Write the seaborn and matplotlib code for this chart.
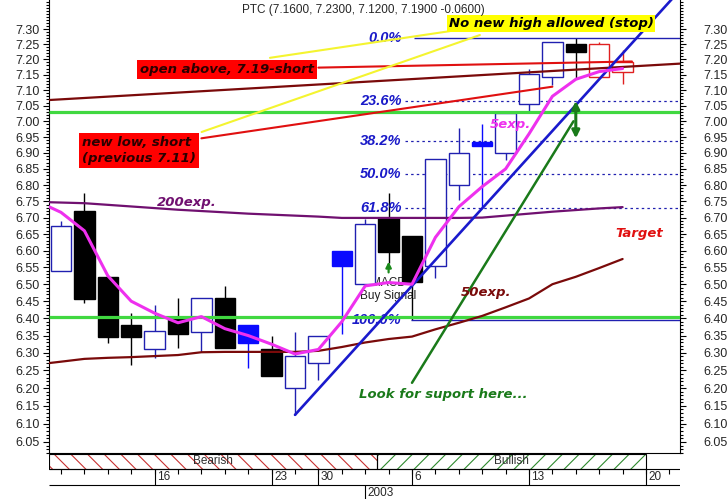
import numpy as np
import matplotlib
matplotlib.use('Agg')
import matplotlib.pyplot as plt
import seaborn as sns
from matplotlib.patches import Rectangle
from matplotlib.ticker import FixedLocator, FuncFormatter, NullFormatter

# --- 일봉 데이터 (거래일 인덱스 0..24) ---
day_idx = list(range(25))
opens = [6.54, 6.72, 6.52, 6.38, 6.31, 6.40, 6.36, 6.46, 6.38, 6.31, 6.20, 6.27, 6.60,
         6.50, 6.70, 6.645, 6.555, 6.80, 6.933, 6.90, 7.054, 7.143, 7.249, 7.143, 7.16]
highs = [6.69, 6.775, 6.52, 6.415, 6.44, 6.46, 6.46, 6.495, 6.38, 6.35, 6.36, 6.35, 6.60,
         6.695, 6.775, 6.645, 6.88, 6.98, 6.99, 7.03, 7.17, 7.258, 7.27, 7.258, 7.23]
lows = [6.54, 6.444, 6.328, 6.266, 6.285, 6.315, 6.304, 6.315, 6.257, 6.235, 6.125, 6.223, 6.354,
        6.50, 6.563, 6.395, 6.518, 6.754, 6.733, 6.878, 7.034, 7.117, 7.135, 7.143, 7.12]
closes = [6.674, 6.455, 6.345, 6.345, 6.363, 6.354, 6.46, 6.315, 6.328, 6.235, 6.292, 6.35, 6.555,
          6.682, 6.597, 6.506, 6.88, 6.90, 6.923, 7.027, 7.152, 7.258, 7.225, 7.249, 7.19]
kinds = ['up', 'down', 'down', 'down', 'up', 'down', 'up', 'down', 'blue', 'down', 'up', 'up', 'blue',
         'up', 'down', 'down', 'up', 'up', 'blue', 'up', 'up', 'up', 'down', 'red', 'red']

# --- 이동평균선 ---
ema_idx = [-0.51] + list(range(25))
ema5 = [6.733, 6.716, 6.66, 6.525, 6.45, 6.415, 6.387, 6.405, 6.37, 6.35, 6.325, 6.297, 6.31,
        6.39, 6.495, 6.505, 6.50, 6.64, 6.733, 6.795, 6.85, 6.96, 7.08, 7.135, 7.16, 7.17]
ema50 = [6.271, 6.275, 6.283, 6.286, 6.288, 6.291, 6.294, 6.302, 6.303, 6.303, 6.303, 6.303, 6.306,
         6.317, 6.330, 6.340, 6.347, 6.368, 6.387, 6.407, 6.432, 6.458, 6.50, 6.522, 6.548, 6.575]
ema200 = [6.747, 6.746, 6.744, 6.739, 6.734, 6.729, 6.724, 6.720, 6.716, 6.712, 6.709, 6.706, 6.703,
          6.699, 6.699, 6.699, 6.699, 6.699, 6.699, 6.700, 6.706, 6.712, 6.718, 6.723, 6.728, 6.732]

# --- 추세선 (시작/끝 인덱스, 가격) ---
blue_trend_x, blue_trend_y = [10, 26.45], [6.125, 7.43]
green_trend_x, green_trend_y = [15, 21.9], [6.215, 7.0]
red_low_x, red_low_y = [6.0, 21.0], [6.946, 7.111]
red_open_x, red_open_y = [11.0, 24.4], [7.173, 7.193]
maroon_x, maroon_y = [-0.51, 26.45], [7.068, 7.186]
yellow_a_x, yellow_a_y = [8.93, 16.62], [7.205, 7.293]
yellow_b_x, yellow_b_y = [6.01, 17.9], [6.966, 7.280]
support_levels = [7.03, 6.405]

# --- 피보나치 ---
fib_labels = ['0.0%', '23.6%', '38.2%', '50.0%', '61.8%', '100.0%']
fib_prices = [7.27, 7.064, 6.936, 6.833, 6.729, 6.395]
fib_dashed = [False, True, True, True, True, False]

# --- 날짜축 ---
week_idx = [4, 9, 11, 15, 20, 25]
week_labels = ['16', '23', '30', '6', '13', '20']
year_idx, year_label = 13, '2003'
band_names = ['Bearish', 'Bullish']
band_start = [-0.513, 13.5]
band_end = [13.5, 25.0]

sns.set_style('ticks')
plt.rcParams['font.family'] = ['Liberation Sans', 'DejaVu Sans']
plt.rcParams['hatch.linewidth'] = 0.8

W, H = 728, 499
XLIM = (-0.513, 26.453)
YLIM = (6.0197, 7.397)
fig = plt.figure(figsize=(W / 100, H / 100), dpi=100)
ax = fig.add_axes([49 / W, 1 - 453 / H, 631 / W, 453 / H])
ax.set_yscale('log')

# 캔들
edge_map = {'up': '#2020b0', 'down': 'black', 'blue': '#0a0aff', 'red': '#e02020'}
face_map = {'up': 'white', 'down': 'black', 'blue': '#0a0aff', 'red': 'white'}
edges = [edge_map[k] for k in kinds]
faces = [face_map[k] for k in kinds]
ax.vlines(day_idx, lows, highs, colors=edges, linewidth=1, zorder=2)
bottoms = np.minimum(opens, closes)
heights = np.abs(np.array(closes) - np.array(opens))
ax.bar(day_idx, heights, bottom=bottoms, width=0.88, color=faces, edgecolor=edges,
       linewidth=1, zorder=3)

# MACD 신호
ax.text(13.97, 6.484, 'MACD\nBuy Signal', ha='center', va='center', fontsize=8.5,
        color='#202020', linespacing=1.05, zorder=1)
ax.annotate('', xy=(14, 6.567), xytext=(14, 6.535),
            arrowprops=dict(arrowstyle='-|>', color='#1a8a1a', lw=1.6, mutation_scale=8,
                            shrinkA=0, shrinkB=0), zorder=5)

# 지지선
ax.hlines(support_levels, XLIM[0], XLIM[1], colors='#40d840', linewidth=2.3, zorder=4)

# 피보나치 레벨
for lab, p, dashed in zip(fib_labels, fib_prices, fib_dashed):
    if dashed:
        ax.hlines(p, 14.7, XLIM[1], colors='#2020b0', linewidth=0.9,
                  linestyles=(0, (2, 2.5)), zorder=2.5)
    else:
        ax.hlines(p, 15.1 if lab == '0.0%' else 14.95, XLIM[1], colors='#2020b0',
                  linewidth=1, zorder=2.5)
    ax.text(14.55, p, lab, ha='right', va='center', fontsize=10.5, fontweight='bold',
            fontstyle='italic', color='#1a1ac8', zorder=3.5)


def draw_line(xs, ys, color, lw, z=4):
    sns.lineplot(x=xs, y=ys, ax=ax, color=color, linewidth=lw, zorder=z, sort=False,
                 errorbar=None)


draw_line(ema_idx, ema200, '#701070', 1.6)
draw_line(ema_idx, ema50, '#7a0a0a', 1.6)
draw_line(maroon_x, maroon_y, '#7a0a0a', 1.6)
draw_line(red_low_x, red_low_y, '#e01010', 1.5)
draw_line(red_open_x, red_open_y, '#e01010', 1.5)
draw_line(green_trend_x, green_trend_y, '#1a7a1a', 1.8)
draw_line(blue_trend_x, blue_trend_y, '#1a1acc', 1.9)
draw_line(ema_idx, ema5, '#ee30ee', 2.2)
draw_line(yellow_a_x, yellow_a_y, '#f4f430', 1.5, z=4.5)
draw_line(yellow_b_x, yellow_b_y, '#f4f430', 1.5, z=4.5)

ax.annotate('', xy=(22.0, 7.065), xytext=(22.0, 6.946),
            arrowprops=dict(arrowstyle='<|-|>', color='#1a7a1a', lw=2.2, mutation_scale=11,
                            shrinkA=0, shrinkB=0), zorder=5)

# 주석 텍스트
note_kw = dict(fontsize=9.5, fontweight='bold', fontstyle='italic',
               family=['DejaVu Sans'], zorder=6)
ax.text(7.09, 7.167, 'open above, 7.19-short', ha='center', va='center', color='#2a0000',
        bbox=dict(boxstyle='square,pad=0.2', fc='#ff0000', ec='none'), **note_kw)
ax.text(3.33, 6.908, 'new low, short\n(previous 7.11)', ha='center', va='center',
        multialignment='left', color='#2a0000', linespacing=1.3,
        bbox=dict(boxstyle='square,pad=0.2', fc='#ff0000', ec='none'), **note_kw)
ax.text(20.94, 7.317, 'No new high allowed (stop)', ha='center', va='center', color='black',
        bbox=dict(boxstyle='square,pad=0.15', fc='#ffff00', ec='none'), **note_kw)
ax.text(5.36, 6.746, '200exp.', ha='center', va='center', color='#701070', **note_kw)
ax.text(19.19, 6.991, '5exp.', ha='center', va='center', color='#ee30ee', **note_kw)
ax.text(18.16, 6.477, '50exp.', ha='center', va='center', color='#7a0a0a', **note_kw)
ax.text(24.7, 6.653, 'Target', ha='center', va='center', color='#e01010', **note_kw)
ax.text(16.35, 6.183, 'Look for suport here...', ha='center', va='center', color='#1a7a1a',
        **note_kw)

fig.text(363 / W, 1 - 10 / H, 'PTC (7.1600, 7.2300, 7.1200, 7.1900 -0.0600)',
         ha='center', va='center', fontsize=8.5)

# 축 설정
major = np.round(np.arange(6.05, 7.301, 0.05), 2)
minor = np.round(np.arange(6.02, 7.395, 0.01), 2)
fmt = FuncFormatter(lambda v, p: f'{v:.2f}')
ax.set_xlim(XLIM)
ax.set_ylim(YLIM)
ax.set_xticks([])
ax.yaxis.set_major_locator(FixedLocator(major))
ax.yaxis.set_minor_locator(FixedLocator(minor))
ax.yaxis.set_major_formatter(fmt)
ax.yaxis.set_minor_formatter(NullFormatter())
ax.tick_params(axis='y', which='major', left=True, right=False, length=4, width=0.8,
               pad=3, labelsize=9, color='black')
ax.tick_params(axis='y', which='minor', left=True, right=False, length=2, width=0.8,
               color='black')
ax.spines['top'].set_visible(False)
for s in ['left', 'right', 'bottom']:
    ax.spines[s].set_color('black')
    ax.spines[s].set_linewidth(0.8)

ax_r = ax.twinx()
ax_r.set_yscale('log')
ax_r.set_ylim(YLIM)
ax_r.yaxis.set_major_locator(FixedLocator(major))
ax_r.yaxis.set_minor_locator(FixedLocator(minor))
ax_r.yaxis.set_major_formatter(fmt)
ax_r.yaxis.set_minor_formatter(NullFormatter())
ax_r.tick_params(axis='y', which='major', right=True, length=4, width=0.8, pad=13,
                 labelsize=9, color='black')
ax_r.tick_params(axis='y', which='minor', right=True, length=2, width=0.8, color='black')
for s in ax_r.spines.values():
    s.set_visible(False)

# 하단 날짜 / 추세 띠
axb = fig.add_axes([49 / W, 0, 631 / W, 46 / H])
axb.set_xlim(XLIM)
axb.set_ylim(46, 0)
axb.axis('off')
band_colors = ['#c83232', '#2f8a2f']
band_hatch = ['\\\\', '//']
for name, s, e, c, h in zip(band_names, band_start, band_end, band_colors, band_hatch):
    axb.add_patch(Rectangle((s, 0.5), e - s, 15.5, fill=False, edgecolor=c, hatch=h,
                            linewidth=0))
    axb.add_patch(Rectangle((s, 0.5), e - s, 15.5, fill=False, edgecolor='black',
                            linewidth=0.8))
    axb.text((s + e) / 2, 8.5, name, ha='center', va='center', fontsize=8.5, color='#303030')
axb.hlines([16, 32], XLIM[0], XLIM[1], colors='black', linewidth=0.8)
axb.vlines(range(27), 16, 21, colors='black', linewidth=0.8)
axb.vlines(week_idx, 16, 32, colors='black', linewidth=0.8)
for i, lab in zip(week_idx, week_labels):
    axb.text(i + 0.1, 24.5, lab, ha='left', va='center', fontsize=8.5)
axb.vlines([year_idx], 32, 46, colors='black', linewidth=0.8)
axb.text(year_idx + 0.1, 39.5, year_label, ha='left', va='center', fontsize=8.5)

fig.savefig('out.png', dpi=100)
